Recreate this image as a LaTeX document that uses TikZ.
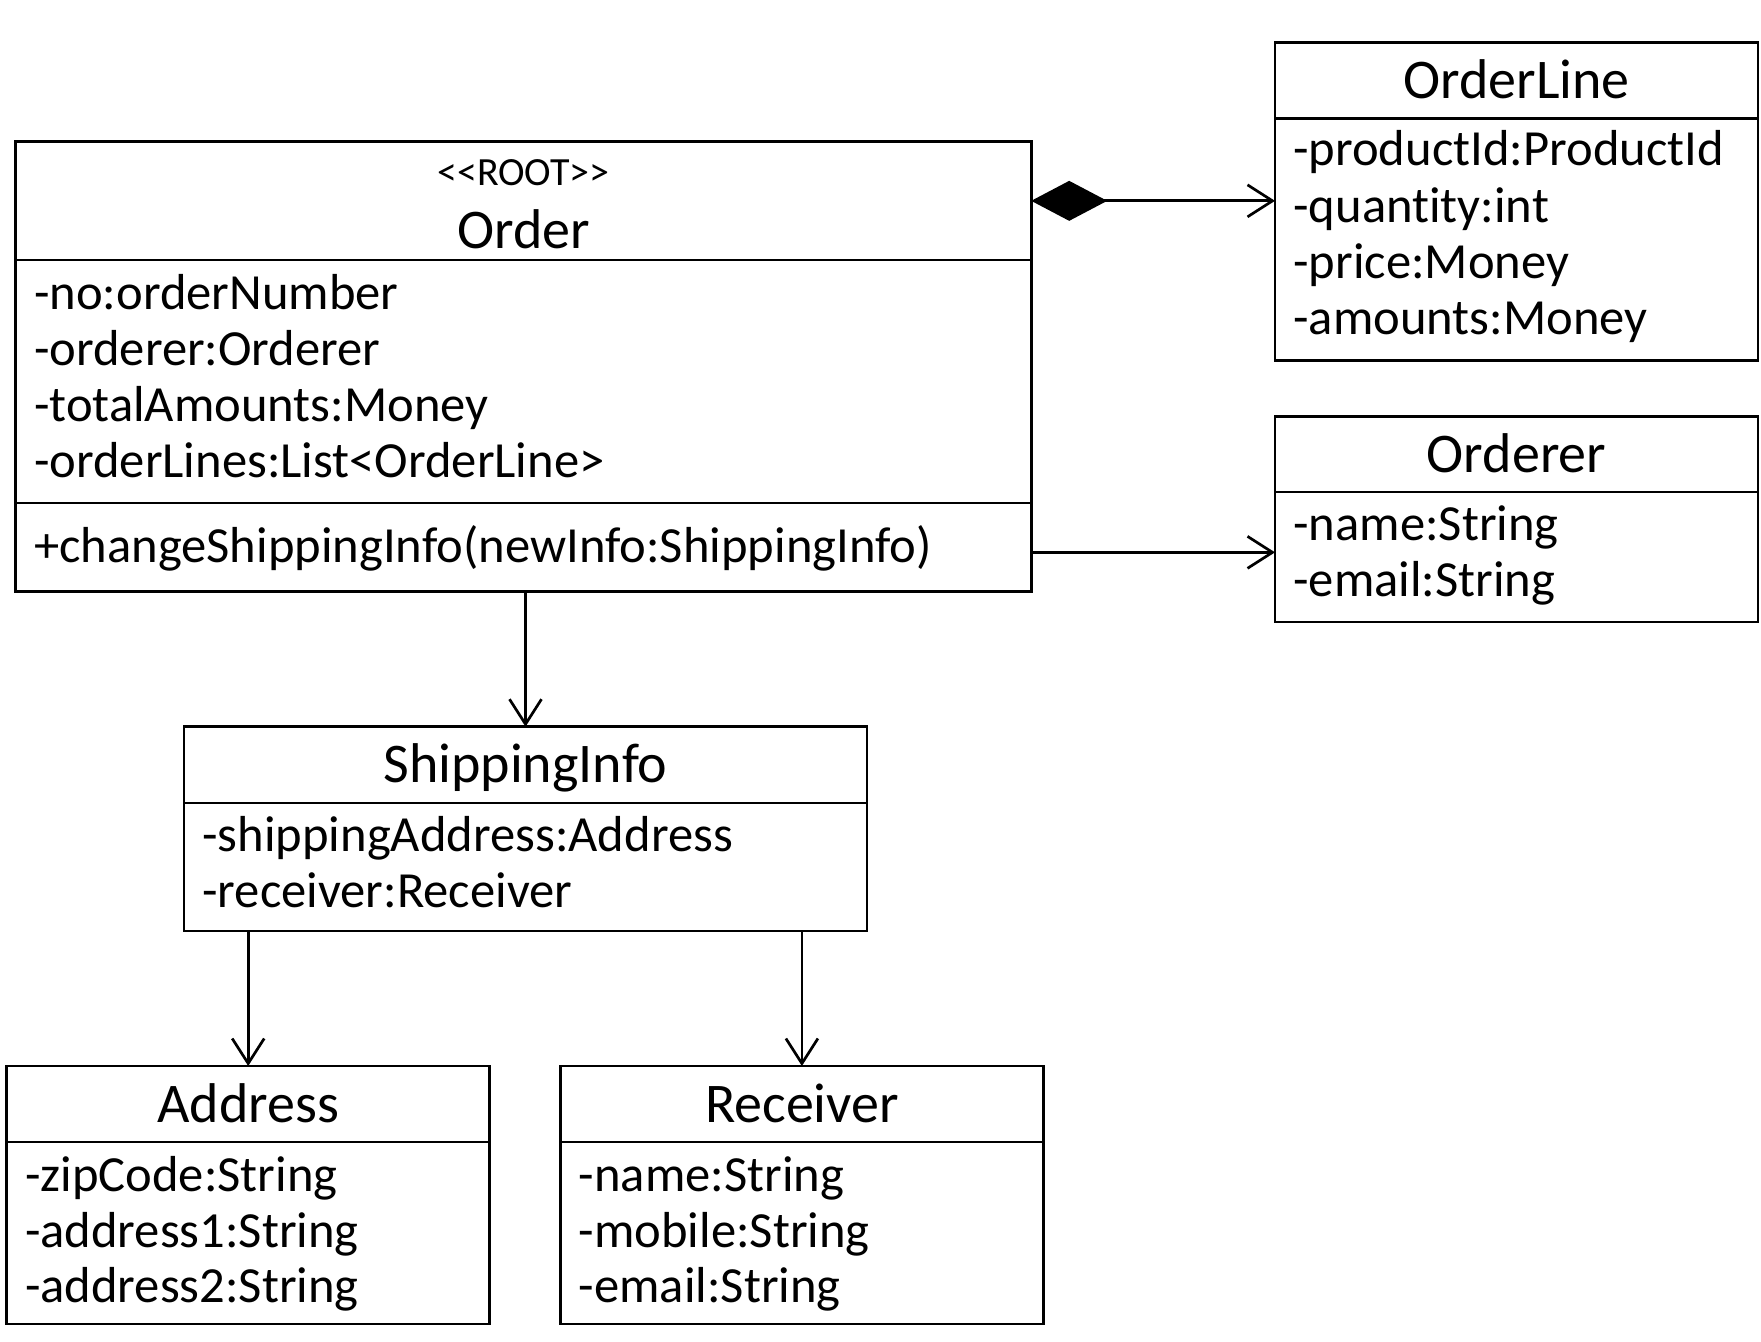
\documentclass[tikz,border=0pt]{standalone}
\usepackage{fontspec}
\setmainfont{Carlito}[Ligatures={NoCommon}]
\usepackage{tikz}
\usetikzlibrary{positioning, arrows.meta}

\begin{document}
\begin{tikzpicture}[x=0.5pt, y=-0.5pt,
    box/.style={draw, line width=1.35pt, inner sep=0pt, outer sep=0pt, anchor=north west},
    head/.style={box, font=\fontsize{28pt}{30pt}\selectfont, text height=18pt, text depth=0pt},
    stereo/.style={inner sep=0pt, font=\fontsize{20pt}{22pt}\selectfont, text height=13pt, text depth=0pt},
    classname/.style={inner sep=0pt, font=\fontsize{28pt}{30pt}\selectfont, text height=18pt, text depth=0pt},
    attr/.style={inner sep=0pt, anchor=west, font=\fontsize{25.3pt}{28pt}\selectfont, text height=16.3pt, text depth=0pt},
    assoc/.style={line width=1.35pt, -{Straight Barb[length=12.5pt, width=16pt]}},
    comp/.style={line width=1.35pt, {Diamond[length=38pt, width=20pt]}-{Straight Barb[length=12.5pt, width=16pt]}}]

    \useasboundingbox (0,0) rectangle (1761,1342);

    % order
    \node [box, minimum width=507.75pt, minimum height=59.15pt] (orderhead) at (15.7,141.7) {};
    \node [box, minimum width=507.75pt, minimum height=121.5pt, below=0pt of orderhead] (orderattr) {};
    \node [box, minimum width=507.75pt, minimum height=44.35pt, below=0pt of orderattr] (orderops) {};

    \node [stereo] (root) at ([shift={(0,31.3)}]orderhead.north) {<{}<ROOT>{}>};
    \node [classname] (ordername) at ([shift={(0,89.3)}]orderhead.north) {Order};

    \node [attr] (orderno) at ([shift={(18,33)}]orderattr.north west) {-no:orderNumber};
    \node [attr] (orderorderer) at ([shift={(18,89)}]orderattr.north west) {-orderer:Orderer};
    \node [attr] (ordertotal) at ([shift={(18,145)}]orderattr.north west) {-totalAmounts:Money};
    \node [attr] (orderlines) at ([shift={(18,201)}]orderattr.north west) {-orderLines:List<OrderLine>};
    \node [attr] (orderchange) at ([shift={(18,-1.5)}]orderops.west) {+changeShippingInfo(newInfo:ShippingInfo)};

    % orderline
    \node [head, minimum width=241.5pt, minimum height=37.8pt] (orderlinehead) at (1275,42.7) {OrderLine};
    \node [box, minimum width=241.5pt, minimum height=121.1pt, below=0pt of orderlinehead] (orderlinebody) {};

    \node [attr] (olproduct) at ([shift={(18,31)}]orderlinebody.north west) {-productId:ProductId};
    \node [attr] (olquantity) at ([shift={(18,88)}]orderlinebody.north west) {-quantity:int};
    \node [attr] (olprice) at ([shift={(18,144)}]orderlinebody.north west) {-price:Money};
    \node [attr] (olamounts) at ([shift={(18,200)}]orderlinebody.north west) {-amounts:Money};

    % orderer
    \node [head, minimum width=241.5pt, minimum height=37.65pt] (ordererhead) at (1275,416.7) {Orderer};
    \node [box, minimum width=241.5pt, minimum height=65pt, below=0pt of ordererhead] (ordererbody) {};

    \node [attr] (orname) at ([shift={(18,32.5)}]ordererbody.north west) {-name:String};
    \node [attr] (oremail) at ([shift={(18,88.5)}]ordererbody.north west) {-email:String};

    % shipping info
    \node [head, minimum width=341.5pt, minimum height=38.15pt] (shiphead) at (184,726.7) {ShippingInfo};
    \node [box, minimum width=341.5pt, minimum height=64pt, below=0pt of shiphead] (shipbody) {};

    \node [attr] (shipaddr) at ([shift={(18,32.5)}]shipbody.north west) {-shippingAddress:Address};
    \node [attr] (shiprecv) at ([shift={(18,88)}]shipbody.north west) {-receiver:Receiver};

    % address
    \node [head, minimum width=241.5pt, minimum height=38pt] (addrhead) at (6.7,1066) {Address};
    \node [box, minimum width=241.5pt, minimum height=91pt, below=0pt of addrhead] (addrbody) {};

    \node [attr] (addrzip) at ([shift={(18,33)}]addrbody.north west) {-zipCode:String};
    \node [attr] (addrone) at ([shift={(18,89)}]addrbody.north west) {-address1:String};
    \node [attr] (addrtwo) at ([shift={(18,144)}]addrbody.north west) {-address2:String};

    % receiver
    \node [head, minimum width=241.5pt, minimum height=38pt] (recvhead) at (560.4,1066) {Receiver};
    \node [box, minimum width=241.5pt, minimum height=91pt, below=0pt of recvhead] (recvbody) {};

    \node [attr] (recvname) at ([shift={(18,33)}]recvbody.north west) {-name:String};
    \node [attr] (recvmobile) at ([shift={(18,89)}]recvbody.north west) {-mobile:String};
    \node [attr] (recvemail) at ([shift={(18,144)}]recvbody.north west) {-email:String};

    % links
    \draw [comp] (orderhead.east) -- (orderhead.east -| orderlinehead.west);
    \draw [assoc] ([yshift=-2.5pt]orderops.east) -- ([yshift=-2.5pt]orderops.east -| ordererbody.west);
    \draw [assoc] (orderops.south -| shiphead.north) -- (shiphead.north);
    \draw [assoc] (addrhead.north |- shipbody.south) -- (addrhead.north);
    \draw [assoc] (recvhead.north |- shipbody.south) -- (recvhead.north);

\end{tikzpicture}
\end{document}
